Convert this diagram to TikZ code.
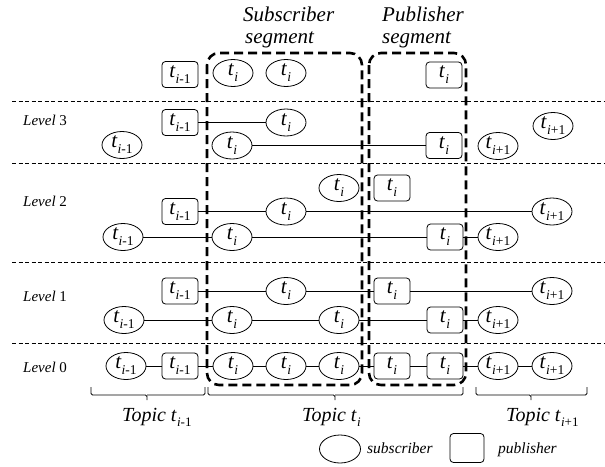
\documentclass[tikz,border=0pt]{standalone}
\usepackage{fontspec}
\setmainfont{Liberation Serif}
\usetikzlibrary{shapes.geometric}
\newcommand{\tsb}[2]{\textit{t}\kern0.2pt\raisebox{-0.28em}{\fontsize{#1}{#1}\selectfont #2}}
\newcommand{\tprev}{\tsb{13.5}{\textit{i}-1}}
\newcommand{\tcur}{\tsb{13.5}{\textit{i}}}
\newcommand{\tnext}{\tsb{13.5}{\textit{i}+1}}
\begin{document}
\begin{tikzpicture}[x=1pt,y=-1pt,
  sub/.style={draw,ellipse,minimum width=40pt,minimum height=27pt,inner sep=0pt,line width=0.8pt,font=\fontsize{21}{21}\selectfont},
  pub/.style={draw,rectangle,rounded corners=3.5pt,minimum width=36pt,minimum height=26pt,inner sep=0pt,line width=0.8pt,font=\fontsize{21}{21}\selectfont},
  conn/.style={line width=0.8pt},
  sep/.style={line width=0.8pt,dash pattern=on 4pt off 2.5pt},
  seg/.style={line width=2.6pt,dash pattern=on 9pt off 5pt,rounded corners=12pt},
  brace/.style={line width=0.8pt,rounded corners=1.5pt},
  lvl/.style={anchor=base west,inner sep=0pt,font=\fontsize{15}{15}\selectfont},
  ttl/.style={anchor=base west,inner sep=0pt,font=\fontsize{21}{21}\selectfont\itshape},
  topic/.style={anchor=base west,inner sep=0pt,font=\fontsize{20}{20}\selectfont},
  leg/.style={anchor=base west,inner sep=0pt,font=\fontsize{15.5}{15.5}\selectfont\itshape}]
\useasboundingbox (0,0) rectangle (605,466);
\fill[white] (0,0) rectangle (605,466);

% separators
\foreach \yy in {101,163,262,343} \draw[sep] (12,\yy) -- (605,\yy);

% level labels
\node[lvl] (L3) at (23,125) {\textit{Level} 3};
\node[lvl] (L2) at (23,206.5) {\textit{Level} 2};
\node[lvl] (L1) at (23,301.5) {\textit{Level} 1};
\node[lvl] (L0) at (23,372.5) {\textit{Level} 0};

% top row
\node[pub] (tp1) at (180,74.5) {\tprev};
\node[sub] (ts1) at (233,73) {\tcur};
\node[sub] (ts2) at (286,73) {\tcur};
\node[pub] (tp2) at (444,75) {\tcur};

% level 3
\node[pub] (p3a) at (180,122.5) {\tprev};
\node[sub] (s3a) at (286,122.5) {\tcur};
\node[sub] (s3b) at (122,145) {\tprev};
\node[sub] (s3c) at (232,145.5) {\tcur};
\node[pub] (p3b) at (444,145.5) {\tcur};
\node[sub] (s3d) at (498,146) {\tnext};
\node[sub] (s3e) at (553,126) {\tnext};
\draw[conn] (p3a) -- (s3a);
\draw[conn] (s3c) -- (p3b);

% level 2
\node[sub] (s2x) at (339,188) {\tcur};
\node[pub] (p2x) at (392,188) {\tcur};
\node[pub] (p2a) at (180,211.5) {\tprev};
\node[sub] (s2a) at (286,211.5) {\tcur};
\node[sub] (s2b) at (552,211.5) {\tnext};
\node[sub] (s2c) at (123,237) {\tprev};
\node[sub] (s2d) at (232,237) {\tcur};
\node[pub] (p2b) at (445,237) {\tcur};
\node[sub] (s2e) at (498,237) {\tnext};
\draw[conn] (p2a) -- (s2a) -- (s2b);
\draw[conn] (s2c) -- (s2d) -- (p2b) -- (s2e);

% level 1
\node[pub] (p1a) at (180,291) {\tprev};
\node[sub] (s1a) at (286,291) {\tcur};
\node[pub] (p1b) at (392,291) {\tcur};
\node[sub] (s1b) at (552,291) {\tnext};
\node[sub] (s1c) at (124,320) {\tprev};
\node[sub] (s1d) at (232,320) {\tcur};
\node[sub] (s1e) at (339,320) {\tcur};
\node[pub] (p1c) at (445,320) {\tcur};
\node[sub] (s1f) at (498,320) {\tnext};
\draw[conn] (p1a) -- (s1a) -- (p1b) -- (s1b);
\draw[conn] (s1c) -- (s1d) -- (s1e) -- (p1c) -- (s1f);

% level 0
\node[sub] (s0a) at (126,366) {\tprev};
\node[pub] (p0a) at (180,366) {\tprev};
\node[sub] (s0b) at (233,366) {\tcur};
\node[sub] (s0c) at (286,366) {\tcur};
\node[sub] (s0d) at (339,366) {\tcur};
\node[pub] (p0b) at (392,366) {\tcur};
\node[pub] (p0c) at (445,366) {\tcur};
\node[sub] (s0e) at (498,366) {\tnext};
\node[sub] (s0f) at (552,366) {\tnext};
\draw[conn] (s0a) -- (p0a) -- (s0b) -- (s0c) -- (s0d) -- (p0b) -- (p0c) -- (s0e) -- (s0f);

% segment boxes
\draw[seg] (207,53) rectangle (362,385);
\draw[seg] (369,53) rectangle (466,385);
\node[ttl] (subT1) at (243,21) {Subscriber};
\node[ttl] (subT2) at (245,43) {segment};
\node[ttl] (pubT1) at (382,21) {Publisher};
\node[ttl] (pubT2) at (382,43) {segment};

% braces
\draw[brace] (91,387) |- (147,395) -- (147,400) (147,395) -| (205,387);
\draw[brace] (208,387) |- (335,395) -- (335,400) (335,395) -| (463,387);
\draw[brace] (476,387) |- (531,395) -- (531,400) (531,395) -| (587,387);
\node[topic] (top1) at (122,421) {\textit{Topic} \tsb{13}{\textit{i}-1}};
\node[topic] (top2) at (302,421) {\textit{Topic} \tsb{13}{\textit{i}}};
\node[topic] (top3) at (506,421) {\textit{Topic} \tsb{13}{\textit{i}+1}};

% legend
\node[sub,minimum width=41pt,minimum height=28pt] (lsub) at (340,449) {};
\node[leg] (lsubT) at (367,453) {subscriber};
\node[pub,minimum width=34pt,minimum height=29pt] (lpub) at (467,448) {};
\node[leg] (lpubT) at (498,453) {publisher};
\end{tikzpicture}
\end{document}
